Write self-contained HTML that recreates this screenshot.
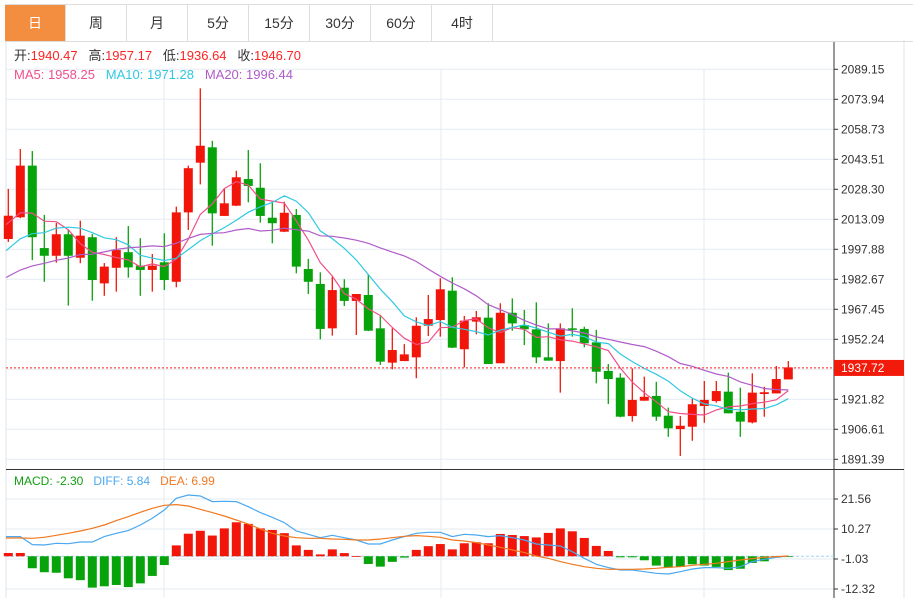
<!DOCTYPE html>
<html><head><meta charset="utf-8">
<style>
html,body{margin:0;padding:0;background:#fff;}
body{width:913px;height:598px;overflow:hidden;position:relative;font-family:"Liberation Sans","Noto Sans CJK SC",sans-serif;}
.tabs{position:absolute;left:5px;top:4px;height:36px;width:908px;border-top:1px solid #ddd;border-bottom:1px solid #ddd;display:flex;}
.tab{width:60px;height:36px;border-right:1px solid #ddd;font-size:14px;color:#333;display:flex;align-items:center;justify-content:center;}
.tab.active{background:#f38d3f;color:#fff;}
.hdr{position:absolute;left:14px;font-size:13px;white-space:nowrap;line-height:16px;}
svg{position:absolute;left:0;top:0;}
</style></head>
<body>
<svg id="chart" width="913" height="598"></svg>
<div class="tabs">
<div class="tab active">日</div>
<div class="tab">周</div>
<div class="tab">月</div>
<div class="tab">5分</div>
<div class="tab">15分</div>
<div class="tab">30分</div>
<div class="tab">60分</div>
<div class="tab">4时</div>
</div>
<div class="hdr" style="top:48px;color:#333">开:<span style="color:#f22">1940.47</span>&nbsp;&nbsp; 高:<span style="color:#f22">1957.17</span>&nbsp;&nbsp; 低:<span style="color:#f22">1936.64</span>&nbsp;&nbsp; 收:<span style="color:#f22">1946.70</span></div>
<div class="hdr" style="top:67px"><span style="color:#f0508a">MA5: 1958.25</span>&nbsp;&nbsp; <span style="color:#30c8e0">MA10: 1971.28</span>&nbsp;&nbsp; <span style="color:#b05cc8">MA20: 1996.44</span></div>
<div class="hdr" style="top:473px;font-size:12px"><span style="color:#10a010">MACD: -2.30</span>&nbsp;&nbsp; <span style="color:#4aa8f0">DIFF: 5.84</span>&nbsp;&nbsp; <span style="color:#f07820">DEA: 6.99</span></div>
<script>
const prevCloses=[1965,1962,1968,1975,1972,1970,1978,1966,1972,1972,1980,1978,1990,1982,1990,2010,2005,2015,2006.9];
const opens=[2003.1,2014.1,2040.3,1998.5,1994.6,2005.5,1993.6,2004.0,1980.6,1988.5,1996.4,1989.6,1987.4,1991.3,1981.4,2016.6,2041.8,2049.6,2014.8,2020.0,2033.5,2029.1,2013.9,2006.8,2015.3,1987.9,1980.3,1957.8,1978.4,1971.7,1974.7,1957.8,1940.4,1941.2,1943.1,1959.1,1962.0,1976.9,1947.2,1961.2,1963.2,1940.1,1965.7,1959.5,1957.3,1943.1,1941.2,1957.8,1957.5,1950.7,1936.2,1932.8,1913.3,1921.1,1923.5,1913.5,1906.7,1907.9,1918.4,1920.9,1925.7,1915.5,1910.1,1924.5,1924.8,1931.9];
const highs=[2028.5,2048.7,2047.7,2015.3,2011.2,2007.7,2012.4,2005.6,1990.9,2004.0,2009.7,2003.5,1995.5,2006.0,2019.5,2040.3,2079.5,2052.9,2028.8,2037.7,2048.2,2041.5,2022.0,2022.0,2018.3,1993.0,1986.2,1984.0,1982.7,1975.2,1985.2,1964.6,1957.8,1949.8,1963.4,1974.7,1983.2,1983.7,1964.1,1966.6,1970.5,1970.5,1973.0,1967.1,1971.0,1960.3,1960.3,1968.0,1958.6,1957.0,1939.7,1935.0,1937.5,1933.3,1930.7,1917.6,1913.3,1922.0,1931.1,1931.1,1935.3,1927.7,1935.0,1928.2,1938.7,1941.2];
const lows=[2001.6,2013.7,1992.4,1981.4,1991.1,1969.3,1990.8,1971.8,1974.3,1976.4,1983.5,1974.3,1976.4,1977.2,1978.6,2007.7,2030.8,1999.7,2014.8,2019.8,2021.7,2011.4,2000.9,2006.6,1985.7,1975.2,1952.2,1954.1,1969.1,1954.4,1956.4,1939.2,1937.0,1941.2,1932.5,1953.9,1953.6,1947.8,1938.0,1954.8,1939.7,1940.1,1956.6,1949.3,1940.1,1941.4,1925.2,1953.6,1948.2,1929.9,1919.4,1912.7,1910.5,1921.1,1910.9,1902.8,1893.1,1900.8,1909.9,1920.1,1914.7,1902.8,1909.6,1913.0,1924.8,1931.9];
const closes=[2014.9,2040.3,2004.0,1994.6,2005.5,1994.6,2004.8,1982.3,1989.1,1997.5,1988.7,1987.4,1989.6,1982.3,2016.6,2039.0,2050.4,2016.1,2021.2,2034.4,2030.0,2014.8,2011.1,2016.4,1989.1,1981.4,1957.5,1977.2,1971.7,1975.2,1956.6,1940.9,1946.8,1944.6,1959.1,1962.5,1977.6,1948.0,1961.7,1963.4,1939.7,1965.7,1960.3,1957.3,1943.1,1941.4,1957.8,1957.0,1950.2,1935.8,1932.1,1913.0,1921.5,1923.1,1913.0,1907.1,1908.4,1919.3,1921.5,1926.0,1914.7,1910.5,1925.2,1925.4,1932.1,1938.0];
const macdHist=[1.24,1.24,-4.5,-6.0,-6.2,-8.3,-9.0,-11.8,-11.3,-10.8,-11.6,-10.2,-7.4,-3.3,4.1,8.5,9.6,7.8,10.5,12.8,12.2,10.5,9.9,8.7,4.1,2.4,0.7,2.6,1.2,0.1,-2.9,-3.9,-2.1,-0.5,2.4,3.8,4.6,2.6,4.9,5.3,4.9,8.4,8.0,7.6,7.1,8.8,10.5,9.4,6.9,3.9,2.0,-0.4,-0.4,-1.5,-3.5,-4.3,-4.0,-3.0,-3.5,-4.0,-5.2,-4.7,-2.5,-1.9,-0.5,-0.3];
const diffVals=[7.39,7.39,4.38,4.25,4.88,4.75,5.38,5.38,7.39,8.65,9.65,11.78,14.29,17.43,21.82,23.08,22.70,20.57,20.69,20.57,18.68,16.43,14.67,12.66,9.52,8.27,7.01,7.89,7.01,6.14,4.63,4.63,6.14,7.39,8.65,9.02,9.02,7.39,8.27,8.02,7.39,7.77,7.01,6.14,4.63,4.25,3.88,1.74,-0.77,-3.03,-4.28,-5.16,-5.16,-5.79,-6.42,-6.67,-5.79,-4.78,-4.28,-4.28,-4.53,-3.91,-2.02,-1.14,-0.39,0.11];
const deaVals=[6.89,6.89,6.76,7.14,7.89,8.65,9.52,10.53,11.78,13.41,14.92,16.55,18.06,19.19,19.44,18.94,17.68,16.43,15.17,13.67,12.16,10.28,8.65,7.64,7.01,6.76,6.76,6.51,6.39,6.14,6.14,6.51,7.01,7.52,7.77,7.52,7.14,6.14,5.76,5.13,4.25,3.37,2.37,1.37,0.11,-0.77,-2.02,-3.03,-3.91,-4.53,-4.91,-4.91,-4.91,-4.78,-4.53,-4.16,-3.91,-3.40,-3.03,-2.65,-2.02,-1.40,-0.89,-0.39,-0.14,0.11];
const priceTicks=["2089.15","2073.94","2058.73","2043.51","2028.30","2013.09","1997.88","1982.67","1967.45","1952.24","","1921.82","1906.61","1891.39"];
const macdTicks=["21.56","10.27","-1.03","-12.32"];
const lastPrice=1937.72;

const NS='http://www.w3.org/2000/svg';
const svg=document.getElementById('chart');
function mk(tag,attrs,parent){const e=document.createElementNS(NS,tag);for(const k in attrs)e.setAttribute(k,attrs[k]);(parent||svg).appendChild(e);return e;}
const L=6,R=834;
const xAt=i=>8.3+i*12;
const pTop=2089.15,pBot=1891.39,yTop=69.3,yBot=459.3;
const yP=v=>yTop+(pTop-v)*(yBot-yTop)/(pTop-pBot);
const mTop=21.56,mBot=-12.32,myTop=499,myBot=589;
const yM=v=>myTop+(mTop-v)*(myBot-myTop)/(mTop-mBot);

let g=mk('g',{});


mk('line',{x1:L,y1:40,x2:L,y2:598,stroke:'#dde5ec'},g);
mk('line',{x1:904,y1:40,x2:904,y2:598,stroke:'#dde5ec'},g);
[164,441,704].forEach(x=>mk('line',{x1:x,y1:69,x2:x,y2:598,stroke:'#e3ebf2'},g));
priceTicks.forEach((t,k)=>{const v=pTop-k*(pTop-pBot)/13;const y=yP(v);mk('line',{x1:L,y1:y,x2:R,y2:y,stroke:'#e3ebf2'},g);});
macdTicks.forEach((t,k)=>{const v=mTop-k*(mTop-mBot)/3;const y=yM(v);mk('line',{x1:L,y1:y,x2:R,y2:y,stroke:'#e3ebf2'},g);});
mk('line',{x1:L,y1:469.5,x2:R+70,y2:469.5,stroke:'#333'},g);
mk('line',{x1:R,y1:41,x2:R,y2:598,stroke:'#333'},g);

const ax=mk('g',{'font-size':'12','fill':'#333','font-family':'Liberation Sans, sans-serif'});


priceTicks.forEach((t,k)=>{if(!t)return;const v=parseFloat(t);const y=yP(v);mk('line',{x1:R,y1:y,x2:R+4,y2:y,stroke:'#333'},ax);const tx=mk('text',{x:R+7,y:y+4},ax);tx.textContent=t;});
const ax2=mk('g',{'font-size':'12','fill':'#333','font-family':'Liberation Sans, sans-serif'});


macdTicks.forEach(t=>{const y=yM(parseFloat(t));mk('line',{x1:R,y1:y,x2:R+4,y2:y,stroke:'#333'},ax2);const tx=mk('text',{x:R+7,y:y+4},ax2);tx.textContent=t;});

const cg=mk('g',{});


opens.forEach((o,i)=>{const c=closes[i];const up=c>=o;const col=up?'#f2160a':'#07a30a';const x=xAt(i);
 const w=mk('line',{x1:x,y1:yP(highs[i]),x2:x,y2:yP(lows[i]),stroke:col,'stroke-width':1.3},cg);
 
 
 const t=yP(Math.max(o,c)),b=yP(Math.min(o,c));
 const r=mk('rect',{x:x-4.5,y:t,width:9,height:Math.max(1.5,b-t),fill:col},cg);
 
 
});

const all=prevCloses.concat(closes);
function ma(n){return closes.map((_,i)=>{const j=i+prevCloses.length;let s=0;for(let k=j-n+1;k<=j;k++)s+=all[k];return s/n;});}
[[5,'#f0508a','ma5-line'],[10,'#30c8e0','ma10-line'],[20,'#b05cc8','ma20-line']].forEach(([n,col,name])=>{
 const vals=ma(n);const pts=vals.map((v,i)=>(i===0?L:xAt(i))+','+yP(v).toFixed(1)).join(' ');
 const p=mk('polyline',{points:pts,fill:'none',stroke:col,'stroke-width':1.2});
 
 
});

const ly=yP(lastPrice);
const pl=mk('line',{x1:L,y1:ly,x2:R,y2:ly,stroke:'#f22','stroke-dasharray':'2,2'});


const tag=mk('rect',{x:R,y:ly-8,width:70,height:16,fill:'#f21a0a'});


const tt=mk('text',{x:R+7,y:ly+4,'font-size':'12',fill:'#fff','font-family':'Liberation Sans, sans-serif'});
tt.textContent=lastPrice.toFixed(2);

const zy=yM(0);
const zl=mk('line',{x1:L,y1:zy,x2:R,y2:zy,stroke:'#9fd4f0','stroke-dasharray':'3,2'});


const hg=mk('g',{});


macdHist.forEach((v,i)=>{const y=yM(v);const r=mk('rect',{x:xAt(i)-4.5,y:Math.min(y,zy),width:9,height:Math.max(0.8,Math.abs(y-zy)),fill:v>=0?'#f2160a':'#07a30a'},hg);
 
 
});
[[diffVals,'#4aa8f0','diff-line'],[deaVals,'#f07820','dea-line']].forEach(([vals,col,name])=>{
 const pts=vals.map((v,i)=>(i===0?L:xAt(i))+','+yM(v).toFixed(1)).join(' ');
 const p=mk('polyline',{points:pts,fill:'none',stroke:col,'stroke-width':1.2});
 
 
});
</script>
</body></html>
